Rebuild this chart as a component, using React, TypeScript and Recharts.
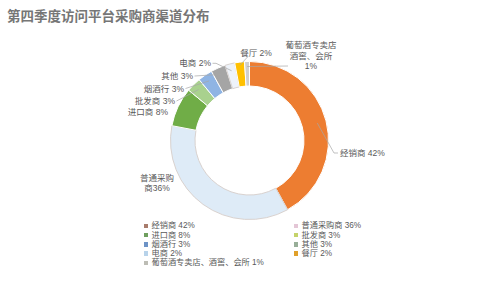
import React from "react";
import { PieChart, Pie, Cell } from "recharts";

const TITLE = "第四季度访问平台采购商渠道分布";
const CATEGORIES = ["经销商", "普通采购商", "进口商", "批发商", "烟酒行", "其他", "电商", "餐厅", "葡萄酒专卖店、酒窖、会所"];
const VALUES = [42, 36, 8, 3, 3, 3, 2, 2, 1];
const SLICE_COLORS = ["#ED7D31", "#DEEBF7", "#70AD47", "#A9D18E", "#8FB4E3", "#A5A5A5", "#EEF3FA", "#FFC000", "#CFCFCF"];
const LEGEND_COLORS = ["#A87C6C", "#E4C6D6", "#6F9F5E", "#C5D36A", "#6D93C6", "#98AE98", "#B8D3EA", "#E0A02A", "#BDBDB5"];
const LABEL_LINES: string[][] = [
  ["经销商 42%"],
  ["普通采购", "商36%"],
  ["进口商 8%"],
  ["批发商 3%"],
  ["烟酒行 3%"],
  ["其他 3%"],
  ["电商 2%"],
  ["餐厅 2%"],
  ["葡萄酒专卖店", "酒窖、会所", "1%"],
];

// label layout (relative to pie centre): text anchor point, anchor, leader offsets
const LABEL_LAYOUT = [
  { x: 90.5, y: 12.5, anchor: "start", leader: [[-6, 0], [-2, 0]], r: 70 },
  { x: -92.5, y: 42.5, anchor: "middle", leader: null, r: 0 },
  { x: -81.5, y: -28.5, anchor: "end", leader: null, r: 0 },
  { x: -74.5, y: -39.5, anchor: "end", leader: [[1.5, 0]], r: 72 },
  { x: -65.5, y: -52, anchor: "end", leader: [[1.5, 0]], r: 72 },
  { x: -56.5, y: -64.5, anchor: "end", leader: [[1.5, 0]], r: 72 },
  { x: -38.5, y: -77.2, anchor: "end", leader: [[1.5, 0], [5, 0]], r: 72 },
  { x: 6.5, y: -88, anchor: "middle", leader: [[-8, 4]], r: 76 },
  { x: 61.5, y: -85, anchor: "middle", leader: [[-23, 10.5]], r: 74 },
];

const data = CATEGORIES.map((name, i) => ({ name, value: VALUES[i] }));

const CX = 244.5;
const CY = 135.5;
const RAD = Math.PI / 180;
const TEXT_COLOR = "#595959";
const FONT = "'Liberation Sans', 'Noto Sans CJK SC', sans-serif";

const renderLabel = (props: any) => {
  const { cx, cy, midAngle, outerRadius, index } = props;
  const lay = LABEL_LAYOUT[index];
  const lines = LABEL_LINES[index];
  const tx = cx + lay.x;
  const ty = cy + lay.y;
  const lh = 10.8;
  const startY = ty - ((lines.length - 1) * lh) / 2;
  let leader = null;
  if (lay.leader) {
    const r = lay.r || outerRadius;
    const px = cx + r * Math.cos(-midAngle * RAD);
    const py = cy + r * Math.sin(-midAngle * RAD);
    const ax = tx;
    const ay = index === 8 ? startY + lh : ty;
    const pts = lay.leader.map(([dx, dy]) => [ax + dx, ay + dy]);
    const ordered = index === 0 ? [[px, py], ...pts] : [...pts, [px, py]];
    leader = (
      <polyline
        points={ordered.map((p) => p.join(",")).join(" ")}
        fill="none"
        stroke="#A6A6A6"
        strokeWidth={0.7}
      />
    );
  }
  return (
    <g key={`lbl-${index}`}>
      {leader}
      {lines.map((ln, k) => (
        <text
          key={k}
          x={tx}
          y={startY + k * lh}
          textAnchor={lay.anchor as any}
          dominantBaseline="central"
          fontSize={8.5}
          fontFamily={FONT}
          fill={TEXT_COLOR}
        >
          {ln}
        </text>
      ))}
    </g>
  );
};

const LEFT_ROWS = [0, 2, 4, 6, 8];
const RIGHT_ROWS = [1, 3, 5, 7];

const LegendItem = ({ i, x, y }: { i: number; x: number; y: number }) => (
  <div
    style={{
      position: "absolute",
      left: x,
      top: y,
      height: 9.2,
      display: "flex",
      alignItems: "center",
      whiteSpace: "nowrap",
      fontFamily: FONT,
      fontSize: 8.2,
      color: TEXT_COLOR,
      lineHeight: "9.2px",
    }}
  >
    <span
      style={{
        display: "inline-block",
        width: 4.5,
        height: 4.5,
        background: LEGEND_COLORS[i],
        marginRight: 3.5,
      }}
    />
    <span>{CATEGORIES[i]} {VALUES[i]}%</span>
  </div>
);

export default function App() {
  return (
    <div style={{ position: "absolute", left: 0, top: 0, width: 498, height: 287, background: "#fff" }}>
      <div
        style={{
          position: "absolute",
          left: 7,
          top: 6,
          fontFamily: "'Noto Sans CJK SC', sans-serif",
          fontSize: 13.5,
          fontWeight: "bold",
          color: "#767676",
          whiteSpace: "nowrap",
          lineHeight: "18px",
        }}
      >
        {TITLE}
      </div>
      <PieChart width={498} height={287} style={{ position: "absolute", left: 0, top: 0 }}>
        <Pie
          data={data}
          dataKey="value"
          nameKey="name"
          cx={CX}
          cy={CY}
          innerRadius={54.5}
          outerRadius={79}
          startAngle={90}
          endAngle={-270}
          stroke="#fff"
          strokeWidth={1}
          label={renderLabel}
          labelLine={false}
          isAnimationActive={false}
        >
          {data.map((d, i) => (
            <Cell key={d.name} fill={SLICE_COLORS[i]} stroke={i === 1 || i === 6 ? "#D9D2CF" : "#fff"} />
          ))}
        </Pie>
      </PieChart>
      {LEFT_ROWS.map((i, k) => (
        <LegendItem key={i} i={i} x={143.5} y={221.4 + k * 9.2} />
      ))}
      {RIGHT_ROWS.map((i, k) => (
        <LegendItem key={i} i={i} x={293.5} y={221.4 + k * 9.2} />
      ))}
    </div>
  );
}
